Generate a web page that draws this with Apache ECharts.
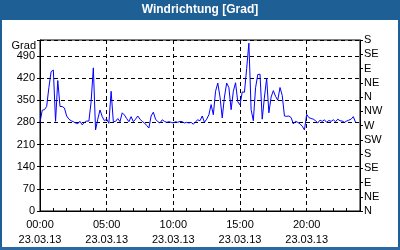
<!DOCTYPE html>
<html>
<head>
<meta charset="utf-8">
<script src="https://cdn.jsdelivr.net/npm/echarts@6/dist/echarts.min.js"></script>
<style>html,body{margin:0;padding:0;background:#fff}#c{width:400px;height:250px}</style>
</head>
<body>
<div id="c"></div>
<script>
// Categories: 10-minute steps over 23.03.13
var dateLabel = '23.03.13';
var times = [];
for (var h = 0; h <= 24; h++) {
  for (var m = 0; m < 60; m += 10) {
    if (h === 24 && m > 0) break;
    times.push((h < 10 ? '0' : '') + h + ':' + (m < 10 ? '0' : '') + m);
  }
}
// Wind direction in degrees
var windDir = [
  280,318,320,330,390,440,445,283,412,330,
  330,325,300,290,285,282,278,276,283,272,
  280,284,284,345,452,256,290,319,298,285,
  290,277,378,282,283,292,282,310,303,292,
  282,298,282,290,300,290,283,278,270,262,
  300,312,290,282,278,288,283,280,282,280,
  278,282,280,283,282,278,280,278,280,274,
  282,288,285,300,280,290,304,336,304,378,
  404,360,294,360,404,390,320,378,405,345,
  335,376,375,450,530,320,285,389,431,432,
  290,360,420,310,360,380,362,350,390,365,
  300,299,300,295,275,283,280,275,268,256,
  305,295,292,290,285,278,287,283,288,280,
  286,283,288,282,290,285,284,280,284,287,
  290,298,280,null,null
];
var leftTicks = [0,70,140,210,280,350,420,490];
var dirLabels = ['N','NE','E','SE','S','SW','W','NW','N','NE','E','SE','S'];
var titleText = 'Windrichtung [Grad]';
var unitText = 'Grad';

var font = 'Liberation Sans';
var chart = echarts.init(document.getElementById('c'), null, {renderer: 'canvas'});
chart.setOption({
  animation: false,
  backgroundColor: '#fff',
  title: {
    text: titleText, left: 'center', top: 4, padding: 0,
    textStyle: {color: '#fff', fontWeight: 'bold', fontSize: 12, fontFamily: font}
  },
  graphic: [
    {type: 'rect', z: -1, shape: {x: 0, y: 0, width: 400, height: 20}, style: {fill: '#1e5f96'}},
    {type: 'rect', z: -1, shape: {x: 0, y: 0, width: 2, height: 250}, style: {fill: '#1e5f96'}},
    {type: 'rect', z: -1, shape: {x: 398, y: 0, width: 2, height: 250}, style: {fill: '#1e5f96'}},
    {type: 'rect', z: -1, shape: {x: 0, y: 247, width: 400, height: 3}, style: {fill: '#2a6aa0'}},
    {type: 'text', left: 'auto', x: 36, y: 46, style: {text: unitText, align: 'right', verticalAlign: 'middle', font: '11px ' + font, fill: '#000'}}
  ],
  grid: {left: 40, top: 40, width: 320, height: 171, show: true, borderColor: '#000', borderWidth: 1, containLabel: false, outerBoundsMode: 'none'},
  xAxis: {
    type: 'category', data: times, boundaryGap: false,
    axisLine: {show: true, lineStyle: {color: '#000', width: 1}},
    axisTick: {show: true, inside: true, length: 3, interval: function (i) { return i % 6 === 0; }, lineStyle: {color: '#000'}},
    axisLabel: {
      show: true, interval: function (i) { return i % 30 === 0 && i < 144; },
      margin: 7, lineHeight: 14.5, color: '#000', fontSize: 11, fontFamily: font,
      formatter: function (v) { return v + '\n' + dateLabel; }
    },
    splitLine: {show: true, interval: function (i) { return i % 30 === 0 && i > 0 && i < 144; }, lineStyle: {color: '#000', type: [4, 3], width: 1}}
  },
  yAxis: [
    {
      type: 'value', min: 0, max: 540, interval: 70, position: 'left',
      axisLine: {show: true, lineStyle: {color: '#000', width: 1}},
      axisTick: {show: true, inside: false, length: 3, lineStyle: {color: '#000'}},
      axisLabel: {margin: 5, color: '#000', fontSize: 11, fontFamily: font,
        formatter: function (v) { return leftTicks.indexOf(v) >= 0 ? String(v) : ''; }},
      splitLine: {show: true, lineStyle: {color: '#000', type: [4, 3], width: 1}}
    },
    {
      type: 'value', min: 0, max: 540, interval: 45, position: 'right',
      axisLine: {show: true, lineStyle: {color: '#000', width: 1}},
      axisTick: {show: true, inside: false, length: 3, lineStyle: {color: '#000'}},
      axisLabel: {margin: 4, color: '#000', fontSize: 11, fontFamily: font,
        formatter: function (v) { return dirLabels[Math.round(v / 45)] || ''; }},
      splitLine: {show: false}
    }
  ],
  series: [{
    type: 'line', data: windDir, yAxisIndex: 0, showSymbol: false, symbol: 'none',
    connectNulls: false, lineStyle: {color: '#0000ff', width: 1}, silent: true
  }]
});
</script>
</body>
</html>
